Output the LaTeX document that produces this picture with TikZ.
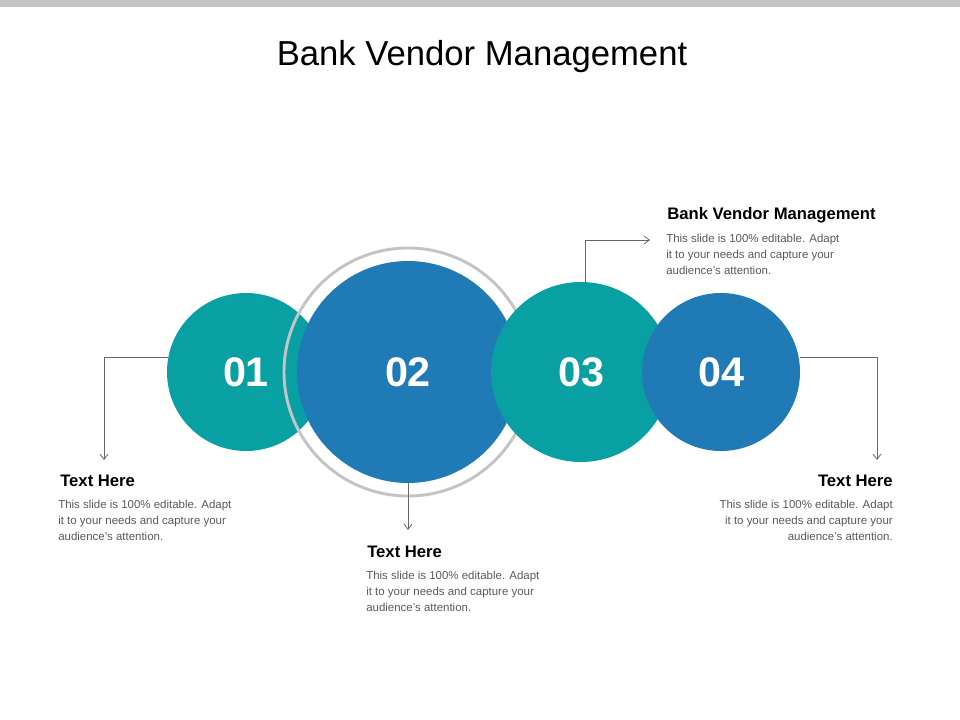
\documentclass[tikz,border=0pt]{standalone}
\usepackage{fontspec}
\setmainfont{Liberation Sans}
\usetikzlibrary{arrows.meta, positioning}
\definecolor{tealc}{HTML}{08A0A2}
\definecolor{bluec}{HTML}{1F7AB6}
\definecolor{ringc}{HTML}{C4C4C4}
\definecolor{bodyc}{HTML}{595959}
\begin{document}
\begin{tikzpicture}[
        x=0.75pt, y=-0.75pt,
        disc/.style={circle, inner sep=0pt, text=white, font=\bfseries\fontsize{31}{31}\selectfont},
        head/.style={inner sep=0pt, font=\bfseries\fontsize{12.5}{14}\selectfont, text=black},
        body/.style={inner sep=0pt, font=\fontsize{8.6}{12}\selectfont, text=bodyc, align=left},
        arrow/.style={-{Straight Barb[length=4pt,width=6pt]}, draw=gray!80!black, line width=0.6pt}
    ]
        \useasboundingbox (0,0) rectangle (960,720);
        \fill[ringc] (0,0) rectangle (960,7);
        % Title
        \node[font=\fontsize{26}{30}\selectfont] (title) at (482,57) {Bank Vendor Management};

        % Circles
        \node[disc, fill=tealc, minimum size=158pt*0.75] (c1) at (246,372) {01};
        \draw[ringc, line width=2.2pt] (408,372) circle[radius=124];
        \node[disc, fill=bluec, minimum size=222pt*0.75] (c2) at (408,372) {02};
        \node[disc, fill=tealc, minimum size=180pt*0.75] (c3) at (581,372) {03};
        \node[disc, fill=bluec, minimum size=158pt*0.75] (c4) at (721,372) {04};

        % Texts
        \node[head, anchor=west] (h1) at (60,481) {Text Here};
        \node[body, anchor=north west] (b1) at (58,500) {This slide is 100\% editable. Adapt\\it to your needs and capture your\\audience's attention.};
        \node[head, anchor=west] (h2) at (367,552) {Text Here};
        \node[body, anchor=north west] (b2) at (366,571) {This slide is 100\% editable. Adapt\\it to your needs and capture your\\audience's attention.};
        \node[head, anchor=west] (h3) at (667,215) {Bank Vendor Management};
        \node[body, anchor=north west] (b3) at (666,234) {This slide is 100\% editable. Adapt\\it to your needs and capture your\\audience's attention.};
        \node[head, anchor=east] (h4) at (893,481) {Text Here};
        \node[body, anchor=north east, align=right] (b4) at (893,500) {This slide is 100\% editable. Adapt\\it to your needs and capture your\\audience's attention.};

        % Arrows
        \coordinate (e1) at (104,460);
        \coordinate (e2) at (408,530);
        \coordinate (e3) at (650,240);
        \coordinate (e4) at (877,460);
        \draw[arrow] (168,357) -| (e1);
        \draw[arrow] (c2.south) -- (e2);
        \draw[arrow] (585,282) |- (e3);
        \draw[arrow] (800,357) -| (e4);
    \end{tikzpicture}
\end{document}
